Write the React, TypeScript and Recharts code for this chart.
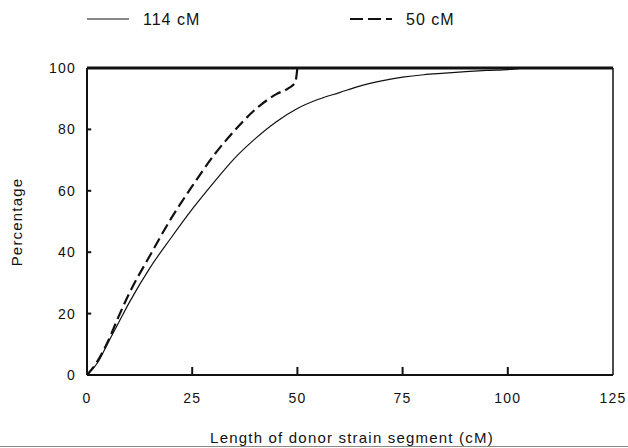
import { LineChart, Line, XAxis, YAxis, Legend, ReferenceLine } from "recharts";

const lengths114 = [0, 2.5, 5, 7.5, 10, 15, 20, 25, 30, 35, 40, 45, 50, 55, 60, 65, 70, 75, 80, 85, 90, 95, 100, 105, 110];
const pct114 = [0, 4, 10.5, 17, 23.5, 35, 44.7, 54, 62.5, 70.5, 77, 82.5, 86.8, 89.8, 92, 94.2, 95.8, 97, 97.8, 98.3, 98.8, 99.2, 99.5, 100, 100];

const lengths50 = [0, 2.5, 5, 7.5, 10, 15, 20, 25, 30, 35, 40, 45, 48, 49.5, 50];
const pct50 = [0, 4.5, 11, 19, 26.5, 39, 51, 61.5, 71.3, 79.5, 86.5, 91.5, 93.5, 95.4, 100];

const xTicks = [0, 25, 50, 75, 100, 125];
const yTicks = [0, 20, 40, 60, 80, 100];

const series = [
  { name: "114 cM", dash: undefined as string | undefined, width: 1.2 },
  { name: "50 cM", dash: "11 5", width: 2.2 },
];

const data114 = lengths114.map((x, i) => ({ x, y: pct114[i] }));
const data50 = lengths50.map((x, i) => ({ x, y: pct50[i] }));

const INK = "#111";
const FONT = "'Liberation Sans', Arial, Helvetica, sans-serif";
const tickStyle = { fontSize: 14, fill: INK, fontFamily: FONT, letterSpacing: 1.2 };

function TopLegend() {
  return (
    <div style={{ display: "flex", fontFamily: FONT, fontSize: 16, color: INK, letterSpacing: 1 }}>
      {series.map((s) => (
        <div key={s.name} style={{ width: 263, display: "flex", alignItems: "center" }}>
          <svg width={42} height={8} style={{ marginTop: -3 }}>
            <line
              x1={0}
              y1={4}
              x2={42}
              y2={4}
              stroke={INK}
              strokeWidth={s.width}
              strokeDasharray={s.dash ? "13 5" : undefined}
            />
          </svg>
          <span style={{ marginLeft: 14 }}>{s.name}</span>
        </div>
      ))}
    </div>
  );
}

export default function App() {
  return (
    <div style={{ position: "absolute", left: 0, top: 0, width: 628, height: 448, background: "#fff" }}>
      <LineChart width={628} height={448} margin={{ top: 67, right: 14, bottom: 72, left: 86 }}>
        <Legend
          verticalAlign="middle"
          align="center"
          content={() => <TopLegend />}
          wrapperStyle={{ top: 11, left: 87, width: 540 }}
        />
        <XAxis
          type="number"
          dataKey="x"
          domain={[0, 125]}
          ticks={xTicks}
          height={1}
          allowDataOverflow
          tickSize={0}
          tickMargin={18}
          tick={tickStyle}
          tickLine={false}
          axisLine={{ stroke: INK, strokeWidth: 2 }}
          label={{
            content: () => (
              <text x={352} y={443} textAnchor="middle" fontSize={15} fill={INK} fontFamily={FONT} letterSpacing={1.2}>
                Length of donor strain segment (cM)
              </text>
            ),
          }}
        />
        <XAxis
          xAxisId="top"
          orientation="top"
          type="number"
          domain={[0, 125]}
          height={1}
          tick={false}
          tickLine={false}
          axisLine={{ stroke: INK, strokeWidth: 3 }}
        />
        <YAxis
          type="number"
          domain={[0, 100]}
          ticks={yTicks}
          width={1}
          tickSize={0}
          tickMargin={11}
          tick={tickStyle}
          tickLine={false}
          axisLine={{ stroke: INK, strokeWidth: 2 }}
          label={{
            content: () => (
              <text
                x={18}
                y={222}
                transform="rotate(-90 18 222)"
                textAnchor="middle"
                dominantBaseline="middle"
                fontSize={15}
                fill={INK}
                fontFamily={FONT}
                letterSpacing={1.2}
              >
                Percentage
              </text>
            ),
          }}
        />
        <YAxis
          yAxisId="right"
          orientation="right"
          domain={[0, 100]}
          width={1}
          tick={false}
          tickLine={false}
          axisLine={{ stroke: INK, strokeWidth: 1.5 }}
        />
        {/* inward tick marks */}
        {xTicks.slice(1, -1).map((t) => (
          <ReferenceLine
            key={`xt${t}`}
            segment={[{ x: t, y: 0 }, { x: t, y: 2.6 }]}
            stroke={INK}
            strokeWidth={2}
            ifOverflow="visible"
          />
        ))}
        {yTicks.slice(1, -1).map((t) => (
          <ReferenceLine
            key={`yt${t}`}
            segment={[{ x: 0, y: t }, { x: 1, y: t }]}
            stroke={INK}
            strokeWidth={2}
            ifOverflow="visible"
          />
        ))}
        <Line
          data={data114}
          dataKey="y"
          name={series[0].name}
          type="monotone"
          stroke={INK}
          strokeWidth={series[0].width}
          dot={false}
          isAnimationActive={false}
        />
        <Line
          data={data50}
          dataKey="y"
          name={series[1].name}
          type="monotone"
          stroke={INK}
          strokeWidth={series[1].width}
          strokeDasharray={series[1].dash}
          dot={false}
          isAnimationActive={false}
        />
      </LineChart>
      <div style={{ position: "absolute", left: 0, top: 446, width: 628, height: 1, background: "#888" }} />
    </div>
  );
}
